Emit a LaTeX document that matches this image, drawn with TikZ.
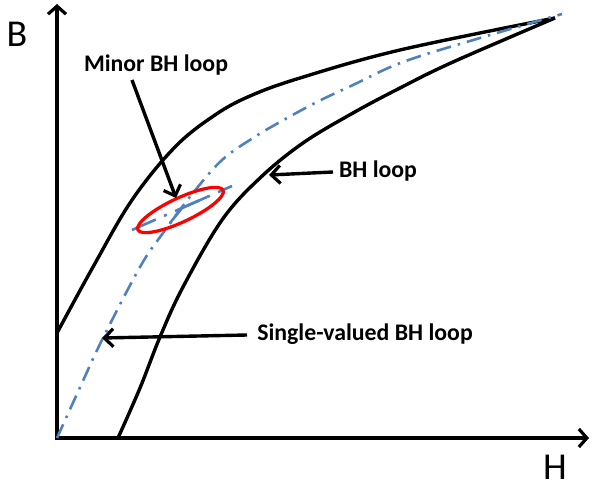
\documentclass[tikz,border=0pt]{standalone}
\usepackage{fontspec}
\setmainfont{Carlito}
\usetikzlibrary{arrows.meta}
\definecolor{curveblue}{RGB}{79,129,189}
\definecolor{loopred}{RGB}{255,0,0}
\begin{document}
\begin{tikzpicture}[x=1pt,y=-1pt,
  axisline/.style={line width=3.6pt,-{Straight Barb[length=8pt,width=18pt,line width=3.2pt]}},
  bhcurve/.style={line width=3.4pt},
  svcurve/.style={line width=2.6pt,curveblue,dash pattern=on 15pt off 7pt on 2.5pt off 7pt},
  pointer/.style={line width=3.4pt,-{Straight Barb[length=9pt,width=18pt,line width=3.2pt]}},
  lbl/.style={font=\fontsize{23.8}{26}\selectfont\bfseries,inner sep=0pt},
  axlbl/.style={font=\fontsize{38}{42}\selectfont,inner sep=0pt}]
\useasboundingbox (0,0) rectangle (592,489);
% axes
\coordinate (o) at (57,438);
\coordinate (ytop) at (57,4);
\coordinate (xend) at (589,438);
\draw[axisline] (57,440) -- (ytop);
\draw[axisline] (55,438) -- (xend);
\node[axlbl] (B) at (17,34) {B};
\node[axlbl] (H) at (555,467) {H};
% BH loop
\draw[bhcurve] plot[smooth,tension=0.6] coordinates {(57,333) (93,267) (132,200) (175,147) (215,115) (250,96) (300,78) (400,50) (555,18)};
\draw[bhcurve] plot[smooth,tension=0.6] coordinates {(118,438) (140,388) (160,337) (183,287) (222,220) (260,178) (303,143) (353,113) (400,88) (453,62) (555,18)};
% single-valued curve
\draw[svcurve] plot[smooth,tension=0.6] coordinates {(57,438) (82,383) (103,338) (140,267) (163,233) (193,193) (222,160) (253,138) (280,122) (317,102) (353,85) (403,62) (480,38) (562,14)};
% minor loop
\draw[line width=2.6pt,curveblue,dash pattern=on 26pt off 9pt on 3pt off 9pt] (132,230) -- (232,186);
\draw[line width=2.6pt,curveblue] (170,223) -- (182,208) -- (207,197);
\draw[line width=3.2pt,loopred,rotate around={25:(180.5,210)}] (180.5,210) ellipse (47 and 12);
% labels and pointers
\node[lbl] (minor) at (156,65) {Minor BH loop};
\node[lbl] (bh) at (378,171) {BH loop};
\node[lbl] (sv) at (365,334) {Single-valued BH loop};
\coordinate (minorS) at (132,80);
\coordinate (minorT) at (176,198);
\coordinate (bhS) at (333,172);
\coordinate (bhT) at (269,175);
\coordinate (svS) at (247,335);
\coordinate (svT) at (102,338);
\draw[pointer] (minorS) -- (minorT);
\draw[pointer] (bhS) -- (bhT);
\draw[pointer] (svS) -- (svT);
\end{tikzpicture}
\end{document}
